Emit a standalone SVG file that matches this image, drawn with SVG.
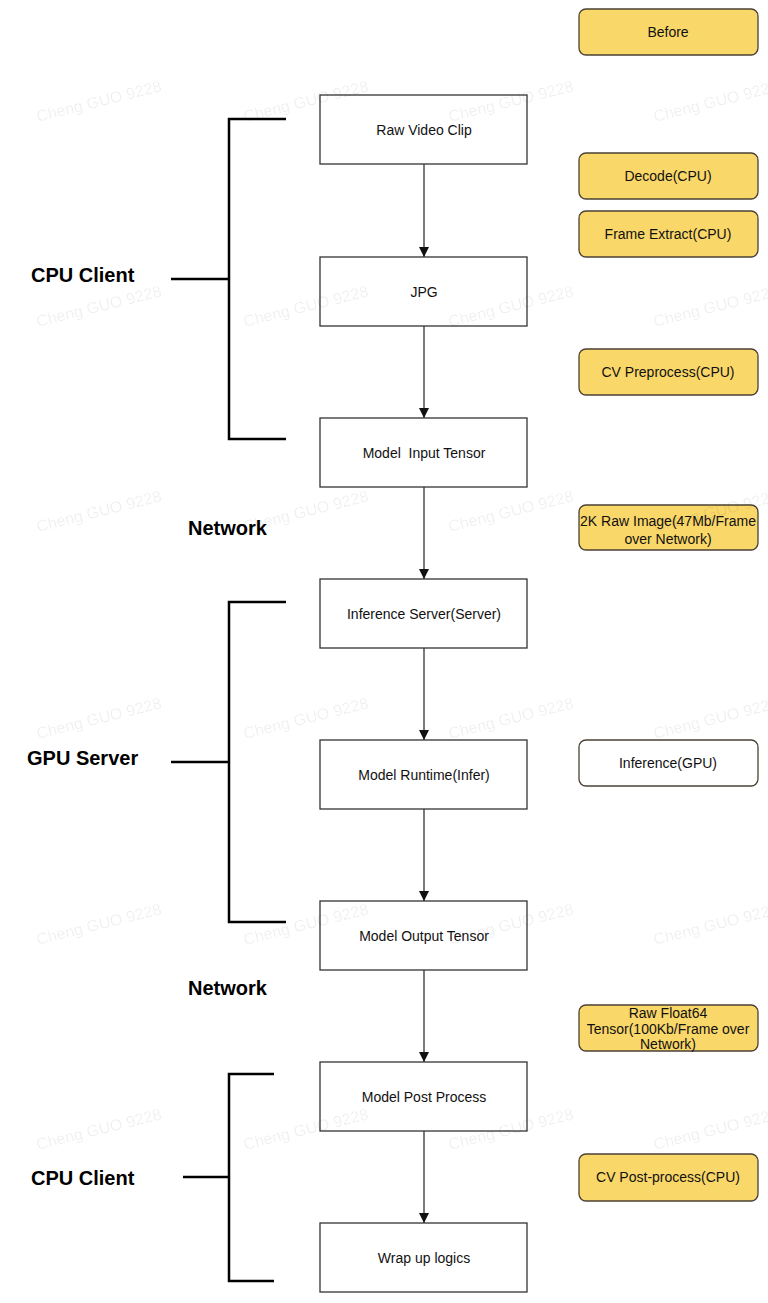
<svg xmlns="http://www.w3.org/2000/svg" width="768" height="1303" viewBox="0 0 768 1303">
<style>
.box{fill:#fff;stroke:#333;stroke-width:1.3}
.note{fill:#FAD769;stroke:#4a4234;stroke-width:1.3}
.wnote{fill:#fff;stroke:#4a4234;stroke-width:1.3}
.t{font-family:"Liberation Sans",Arial,sans-serif;font-size:14px;fill:#111;text-anchor:middle;dominant-baseline:central}
.lbl{font-family:"Liberation Sans",Arial,sans-serif;font-size:20px;font-weight:bold;fill:#000}
.br{fill:none;stroke:#000;stroke-width:2.5}
.conn{stroke:#333;stroke-width:1.3;fill:none;marker-end:url(#ah)}
.wm{font-family:"Liberation Sans",Arial,sans-serif;font-size:16px;fill:#000;fill-opacity:0.07}
</style>
<defs>
<marker id="ah" viewBox="0 0 10 10" refX="10" refY="5" markerWidth="10" markerHeight="10" markerUnits="userSpaceOnUse" orient="auto">
<path d="M0,0 L10,5 L0,10 Z" fill="#111"/>
</marker>
</defs>
<rect width="768" height="1303" fill="#fff"/>

<g id="connectors">
<line class="conn" x1="424" y1="164" x2="424" y2="257"/>
<line class="conn" x1="424" y1="326" x2="424" y2="418"/>
<line class="conn" x1="424" y1="487" x2="424" y2="579"/>
<line class="conn" x1="424" y1="648" x2="424" y2="740"/>
<line class="conn" x1="424" y1="809" x2="424" y2="901"/>
<line class="conn" x1="424" y1="970" x2="424" y2="1062"/>
<line class="conn" x1="424" y1="1131" x2="424" y2="1223"/>
</g>

<g id="n-raw-video"><rect class="box" x="320" y="95" width="207" height="69"/><text class="t" x="424" y="130">Raw Video Clip</text></g>
<g id="n-jpg"><rect class="box" x="320" y="257" width="207" height="69"/><text class="t" x="424" y="292">JPG</text></g>
<g id="n-input-tensor"><rect class="box" x="320" y="418" width="207" height="69"/><text class="t" x="424" y="453" xml:space="preserve">Model  Input Tensor</text></g>
<g id="n-inference-server"><rect class="box" x="320" y="579" width="207" height="69"/><text class="t" x="424" y="614">Inference Server(Server)</text></g>
<g id="n-model-runtime"><rect class="box" x="320" y="740" width="207" height="69"/><text class="t" x="424" y="775">Model Runtime(Infer)</text></g>
<g id="n-output-tensor"><rect class="box" x="320" y="901" width="207" height="69"/><text class="t" x="424" y="936">Model Output Tensor</text></g>
<g id="n-post-process"><rect class="box" x="320" y="1062" width="207" height="69"/><text class="t" x="424" y="1097">Model Post Process</text></g>
<g id="n-wrap-up"><rect class="box" x="320" y="1223" width="207" height="69"/><text class="t" x="424" y="1258">Wrap up logics</text></g>

<g id="note-before"><rect class="note" x="579" y="9" width="179" height="46" rx="7"/><text class="t" x="668" y="32">Before</text></g>
<g id="note-decode"><rect class="note" x="579" y="153" width="179" height="46" rx="7"/><text class="t" x="668" y="176">Decode(CPU)</text></g>
<g id="note-frame"><rect class="note" x="579" y="211" width="179" height="46" rx="7"/><text class="t" x="668" y="234">Frame Extract(CPU)</text></g>
<g id="note-cvpre"><rect class="note" x="579" y="349" width="179" height="46" rx="7"/><text class="t" x="668" y="372">CV Preprocess(CPU)</text></g>
<g id="note-2k"><rect class="note" x="579" y="505" width="179" height="45" rx="7"/><text class="t" x="668" y="521">2K Raw Image(47Mb/Frame</text><text class="t" x="668" y="539">over Network)</text></g>
<g id="note-infer"><rect class="wnote" x="579" y="740" width="179" height="46" rx="7"/><text class="t" x="668" y="763">Inference(GPU)</text></g>
<g id="note-float"><rect class="note" x="579" y="1005" width="179" height="46" rx="7"/><text class="t" x="668" y="1013">Raw Float64</text><text class="t" x="668" y="1028.5">Tensor(100Kb/Frame over</text><text class="t" x="668" y="1044">Network)</text></g>
<g id="note-cvpost"><rect class="note" x="579" y="1154" width="179" height="47" rx="7"/><text class="t" x="668" y="1177">CV Post-process(CPU)</text></g>

<g id="bracket-cpu-top">
<path class="br" d="M286,119 H229 V439 H286 M171,279 H229"/>
<text class="lbl" x="31" y="282">CPU Client</text>
</g>
<g id="bracket-gpu">
<path class="br" d="M286,602 H229 V922 H286 M171,762 H229"/>
<text class="lbl" x="27" y="765">GPU Server</text>
</g>
<g id="bracket-cpu-bottom">
<path class="br" d="M274,1074 H229 V1281 H274 M183,1177 H229"/>
<text class="lbl" x="31" y="1185">CPU Client</text>
</g>
<g id="network-labels">
<text class="lbl" x="188" y="535">Network</text>
<text class="lbl" x="188" y="995">Network</text>
</g>

<g id="watermark">
<text class="wm" transform="translate(38,122) rotate(-14)">Cheng GUO 9228</text>
<text class="wm" transform="translate(245,122) rotate(-14)">Cheng GUO 9228</text>
<text class="wm" transform="translate(450,122) rotate(-14)">Cheng GUO 9228</text>
<text class="wm" transform="translate(655,122) rotate(-14)">Cheng GUO 9228</text>
<text class="wm" transform="translate(38,327) rotate(-14)">Cheng GUO 9228</text>
<text class="wm" transform="translate(245,327) rotate(-14)">Cheng GUO 9228</text>
<text class="wm" transform="translate(450,327) rotate(-14)">Cheng GUO 9228</text>
<text class="wm" transform="translate(655,327) rotate(-14)">Cheng GUO 9228</text>
<text class="wm" transform="translate(38,532) rotate(-14)">Cheng GUO 9228</text>
<text class="wm" transform="translate(245,532) rotate(-14)">Cheng GUO 9228</text>
<text class="wm" transform="translate(450,532) rotate(-14)">Cheng GUO 9228</text>
<text class="wm" transform="translate(655,532) rotate(-14)">Cheng GUO 9228</text>
<text class="wm" transform="translate(38,739) rotate(-14)">Cheng GUO 9228</text>
<text class="wm" transform="translate(245,739) rotate(-14)">Cheng GUO 9228</text>
<text class="wm" transform="translate(450,739) rotate(-14)">Cheng GUO 9228</text>
<text class="wm" transform="translate(655,739) rotate(-14)">Cheng GUO 9228</text>
<text class="wm" transform="translate(38,945) rotate(-14)">Cheng GUO 9228</text>
<text class="wm" transform="translate(245,945) rotate(-14)">Cheng GUO 9228</text>
<text class="wm" transform="translate(450,945) rotate(-14)">Cheng GUO 9228</text>
<text class="wm" transform="translate(655,945) rotate(-14)">Cheng GUO 9228</text>
<text class="wm" transform="translate(38,1150) rotate(-14)">Cheng GUO 9228</text>
<text class="wm" transform="translate(245,1150) rotate(-14)">Cheng GUO 9228</text>
<text class="wm" transform="translate(450,1150) rotate(-14)">Cheng GUO 9228</text>
<text class="wm" transform="translate(655,1150) rotate(-14)">Cheng GUO 9228</text>
</g>
</svg>
